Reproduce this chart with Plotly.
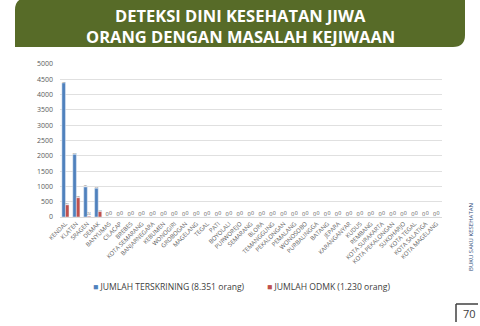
import plotly.graph_objects as go

categories = ["KENDAL", "KLATEN", "SRAGEN", "DEMAK", "BANYUMAS", "CILACAP", "BREBES",
              "KOTA SEMARANG", "BANJARNEGARA", "KEBUMEN", "WONOGIRI", "GROBOGAN",
              "MAGELANG", "TEGAL", "PATI", "BOYOLALI", "PURWOREJO", "SEMARANG", "BLORA",
              "TEMANGGUNG", "PEKALONGAN", "PEMALANG", "WONOSOBO", "PURBALINGGA", "BATANG",
              "JEPARA", "KARANGANYAR", "KUDUS", "REMBANG", "KOTA SURAKARTA",
              "KOTA PEKALONGAN", "SUKOHARJO", "KOTA TEGAL", "KOTA SALATIGA", "KOTA MAGELANG"]
terskrining = [4382, 2048, 981, 940] + [0] * 31
odmk = [397, 630, 24, 179] + [0] * 31
series_names = ["JUMLAH TERSKRINING (8.351 orang)", "JUMLAH ODMK (1.230 orang)"]
series_colors = ["#4f81bd", "#c0504d"]

W, H = 480, 326
L, R, T, B = 60, 38, 64, 109
pw, ph = W - L - R, H - T - B

def px(x):
    return (x - L) / pw

def py(y):
    return (H - B - y) / ph

fig = go.Figure()
fig.add_trace(go.Bar(x=categories, y=terskrining, name=series_names[0],
                     marker_color=series_colors[0], text=terskrining, textposition="outside",
                     textfont=dict(size=8, color="#595959"), cliponaxis=False))
fig.add_trace(go.Bar(x=categories, y=odmk, name=series_names[1],
                     marker_color=series_colors[1], text=odmk, textposition="outside",
                     textfont=dict(size=6, color="#595959"), cliponaxis=False))

# banner
x0, x1, y0, y1, r = 15, 465, -2, 47, 12
path = (f"M {px(x0)} {py(y0)} L {px(x1)} {py(y0)} L {px(x1)} {py(y1 - r)} "
        f"Q {px(x1)} {py(y1)} {px(x1 - r)} {py(y1)} L {px(x0)} {py(y1)} "
        f"L {px(x0)} {py(y0 + r)} Q {px(x0)} {py(y0)} {px(x0 + r)} {py(y0)} Z")
shapes = [dict(type="path", xref="paper", yref="paper", path=path,
               fillcolor="#576b28", line=dict(width=0), layer="below"),
          dict(type="line", xref="paper", yref="paper", x0=px(456), x1=px(456),
               y0=py(304), y1=py(322), line=dict(color="#404040", width=1.5)),
          dict(type="line", xref="paper", yref="paper", x0=px(456), x1=px(478),
               y0=py(304), y1=py(304), line=dict(color="#404040", width=1.5))]

def ann(x, y, text, size, color, xanchor="center", **kw):
    return dict(x=px(x), y=py(y), xref="paper", yref="paper", showarrow=False,
                xanchor=xanchor, yanchor="middle", text=text,
                font=dict(family="Open Sans", size=size, color=color), **kw)

annotations = [
    ann(240, 15, "<b>DETEKSI DINI KESEHATAN JIWA</b>", 16.5, "white"),
    ann(240, 37, "<b>ORANG DENGAN MASALAH KEJIWAAN</b>", 16.5, "white"),
    ann(471, 237, "BUKU SAKU KESEHATAN", 6, "#2e4a7a", textangle=-90),
    ann(469, 313, "70", 11, "#404040"),
    ann(91, 287, f"<span style='color:{series_colors[0]}'>■</span> {series_names[0]}",
        8.6, "#404040", xanchor="left"),
    ann(265, 287, f"<span style='color:{series_colors[1]}'>■</span> {series_names[1]}",
        8.6, "#404040", xanchor="left"),
]

fig.update_layout(
    width=W, height=H, margin=dict(l=L, r=R, t=T, b=B),
    paper_bgcolor="white", plot_bgcolor="white",
    font=dict(family="Open Sans", color="#595959"),
    barmode="group", bargap=0.35, bargroupgap=0,
    showlegend=False,
    shapes=shapes, annotations=annotations,
    xaxis=dict(tickangle=-45, tickfont=dict(size=6, color="#595959"),
               showline=True, linecolor="#d9d9d9", ticks=""),
    yaxis=dict(range=[0, 5000], dtick=500, showgrid=True, gridcolor="#e0e0e0",
               tickfont=dict(size=7, color="#595959"), zeroline=False,
               ticks="", ticklabelstandoff=6),
)

fig.write_html("out.html")
